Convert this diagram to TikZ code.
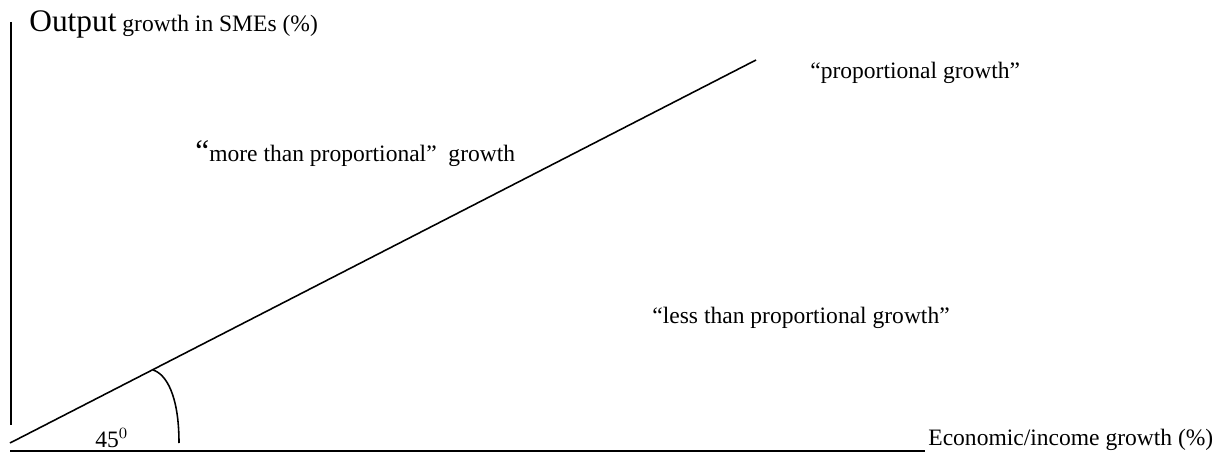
\documentclass[tikz,border=0pt]{standalone}
\usepackage{fontspec}
\setmainfont{Liberation Serif}
\usepackage{tikz}

\begin{document}
\begin{tikzpicture}[x=0.51pt,y=-0.51pt,every node/.style={inner sep=0pt,anchor=base west,font=\fontsize{12}{14}\selectfont}]
        \useasboundingbox (0,0) rectangle (1219,454);
        \coordinate (ytop) at (11,22);
        \coordinate (ybot) at (11,425);
        \coordinate (xl) at (10,451);
        \coordinate (xr) at (925,451);
        \coordinate (o) at (10,443);
        \coordinate (e) at (756,60);
        \coordinate (a1) at (153,370);
        \coordinate (a2) at (179,443);
        \draw[line width=0.8pt] (ytop) -- (ybot);
        \draw[line width=0.6pt] (xl) -- (xr);
        \draw[line width=0.8pt] (o) -- (e);
        \draw[line width=0.8pt] (a1) .. controls (166,374) and (179,395) .. (a2);
        \node (ylab) at (29,32) {{\fontsize{16}{19}\selectfont Output} growth in SMEs (\%)};
        \node (xlab) at (928,445) {Economic/income growth (\%)};
        \node (ang) at (95,447) {45$^{0}$};
        \node (more) at (195,162) {{\fontsize{16}{19}\selectfont “}more than proportional”\ \ growth};
        \node (prop) at (810,79) {“proportional growth”};
        \node (less) at (652,323) {“less than proportional growth”};
      \end{tikzpicture}
\end{document}
